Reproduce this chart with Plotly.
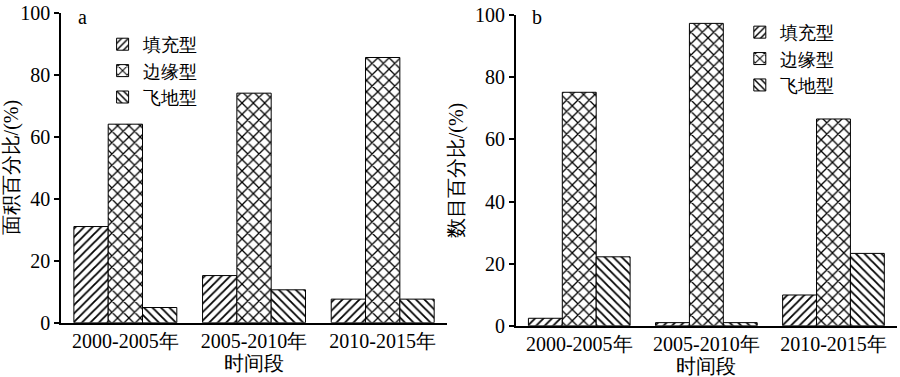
import plotly.graph_objects as go

periods = ["2000-2005年", "2005-2010年", "2010-2015年"]
types = ["填充型", "边缘型", "飞地型"]

area_fill = [31.0, 15.2, 7.6]
area_edge = [64.0, 74.0, 85.5]
area_enclave = [4.9, 10.6, 7.6]

count_fill = [2.4, 1.0, 9.9]
count_edge = [75.2, 97.4, 66.6]
count_enclave = [22.2, 1.0, 23.3]

y_ticks = [0, 20, 40, 60, 80, 100]

FONT = "Liberation Serif, Times New Roman, serif"
shapes_pat = ["/", "x", "\\"]
sizes_pat = [6, 8, 6]

fig = go.Figure()

def add_panel(vals, xa, ya, legend):
    for name, v, sh, sz in zip(types, vals, shapes_pat, sizes_pat):
        fig.add_trace(go.Bar(
            x=periods, y=v, name=name, xaxis=xa, yaxis=ya, legend=legend,
            marker=dict(color="white", line=dict(color="black", width=1),
                        pattern=dict(shape=sh, size=sz, solidity=0.3,
                                     fgcolor="black", bgcolor="white", fgopacity=1)),
        ))

add_panel([area_fill, area_edge, area_enclave], "x", "y", "legend")
add_panel([count_fill, count_edge, count_enclave], "x2", "y2", "legend2")

axis_common = dict(showline=True, linecolor="black", linewidth=1.5,
                   showgrid=False, zeroline=False, mirror=False, automargin=False,
                   tickfont=dict(family=FONT, size=20, color="black"))

fig.update_layout(
    width=900, height=377,
    margin=dict(l=0, r=0, t=0, b=0, autoexpand=False),
    paper_bgcolor="white", plot_bgcolor="white",
    barmode="group", bargap=0.2, bargroupgap=0,
    font=dict(family=FONT, size=20, color="black"),
    xaxis=dict(domain=[0.0678, 0.4967], anchor="y", ticks="",
               title=dict(text="时间段", font=dict(family=FONT, size=20), standoff=2),
               **axis_common),
    yaxis=dict(domain=[0.144, 0.9668], anchor="x", range=[0, 100],
               tickvals=y_ticks, ticks="outside", ticklen=5, tickwidth=1.5,
               tickcolor="black",
               title=dict(text="面积百分比/(%)", font=dict(family=FONT, size=20), standoff=6),
               **axis_common),
    xaxis2=dict(domain=[0.573, 0.9967], anchor="y2", ticks="",
                title=dict(text="时间段", font=dict(family=FONT, size=20), standoff=2),
                **axis_common),
    yaxis2=dict(domain=[0.136, 0.9594], anchor="x2", range=[0, 100],
                tickvals=y_ticks, ticks="outside", ticklen=5, tickwidth=1.5,
                tickcolor="black",
                title=dict(text="数目百分比/(%)", font=dict(family=FONT, size=20), standoff=6),
                **axis_common),
    legend=dict(x=0.114, y=0.931, xanchor="left", yanchor="top",
                bgcolor="rgba(0,0,0,0)", font=dict(family=FONT, size=18),
                tracegroupgap=0, itemwidth=30),
    legend2=dict(x=0.822, y=0.963, xanchor="left", yanchor="top",
                 bgcolor="rgba(0,0,0,0)", font=dict(family=FONT, size=18),
                 tracegroupgap=0, itemwidth=30),
    annotations=[
        dict(text="a", x=82 / 900, y=1 - 17 / 377, xref="paper", yref="paper",
             xanchor="center", yanchor="middle",
             showarrow=False, font=dict(family=FONT, size=20)),
        dict(text="b", x=537 / 900, y=1 - 17 / 377, xref="paper", yref="paper",
             xanchor="center", yanchor="middle",
             showarrow=False, font=dict(family=FONT, size=20)),
    ],
)

fig.write_html("out.html", config={"displayModeBar": False},
               post_script="document.body.style.margin='0px';document.body.style.overflow='hidden';")
